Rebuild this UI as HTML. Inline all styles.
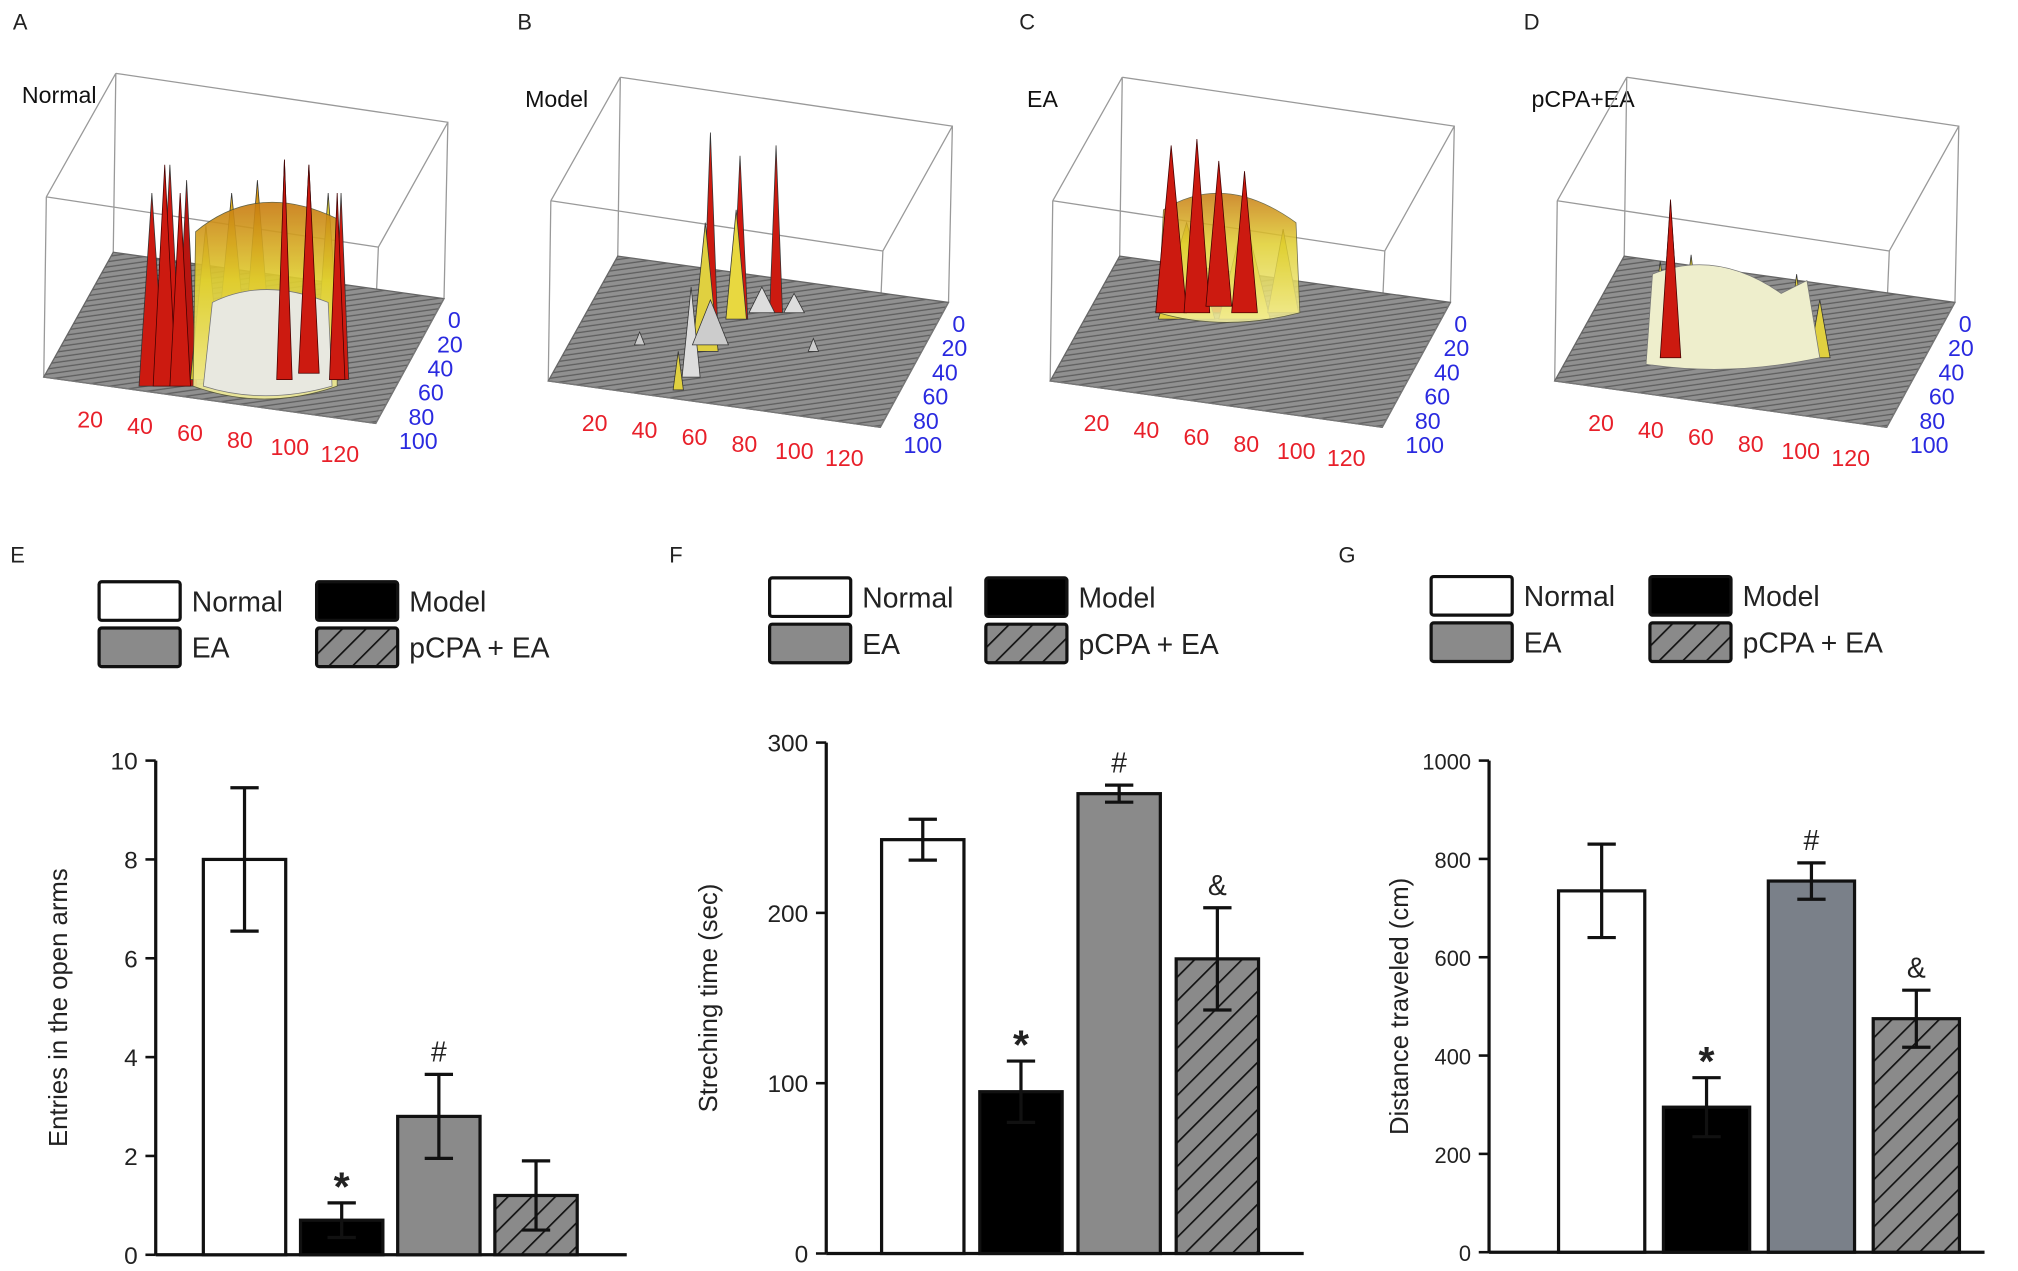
<!DOCTYPE html>
<html><head><meta charset="utf-8"><style>
html,body{margin:0;padding:0;background:#fff;}
svg{display:block;font-family:"Liberation Sans",Arial,sans-serif;}
</style></head><body>
<svg id="fig" width="2018" height="1271" viewBox="0 0 1568 987.6" preserveAspectRatio="none" xmlns="http://www.w3.org/2000/svg">
<defs>
<pattern id="hatch" patternUnits="userSpaceOnUse" width="13" height="13" patternTransform="rotate(45)">
<rect width="13" height="13" fill="#8a8a8a"/><line x1="0" y1="0" x2="0" y2="13" stroke="#111" stroke-width="2.6"/>
</pattern>
<pattern id="floor" patternUnits="userSpaceOnUse" width="6" height="4" patternTransform="rotate(-8)">
<rect width="6" height="4" fill="#909090"/><line x1="0" y1="1" x2="6" y2="1" stroke="#5e5e5e" stroke-width="1"/>
</pattern>
<linearGradient id="yel" x1="0" y1="0" x2="0" y2="1"><stop offset="0" stop-color="#c87a10"/><stop offset="0.4" stop-color="#e0d030"/><stop offset="1" stop-color="#f4f0a0"/></linearGradient>
</defs>
<g id="top3d"></g>
<g id="charts"></g>
</svg>
<script>
// ---- bar chart data ----
const categories = ["Normal", "Model", "EA", "pCPA + EA"];
const eMeans = [8.0, 0.7, 2.8, 1.2];
const eErrs = [1.45, 0.35, 0.85, 0.7];
const eTicks = [0, 2, 4, 6, 8, 10];
const eMarks = ["", "*", "#", ""];
const fMeans = [243, 95, 270, 173];
const fErrs = [12, 18, 5, 30];
const fTicks = [0, 100, 200, 300];
const fMarks = ["", "*", "#", "&"];
const gMeans = [735, 295, 755, 475];
const gErrs = [95, 60, 37, 58];
const gTicks = [0, 200, 400, 600, 800, 1000];
const gMarks = ["", "*", "#", "&"];
// ---- 3D plot tick labels ----
const xLabels3d = [20, 40, 60, 80, 100, 120];
const yLabels3d = [0, 20, 40, 60, 80, 100];

const NS = "http://www.w3.org/2000/svg";
function mk(tag, attrs, parent, text) {
  const el = document.createElementNS(NS, tag);
  for (const k in attrs) el.setAttribute(k, attrs[k]);
  if (text !== undefined) el.textContent = text;
  parent.appendChild(el);
  return el;
}
const charts = document.getElementById("charts");
const fills = ["#ffffff", "#000000", "#8a8a8a", "url(#hatch)"];

function barChart(cfg) {
  const g = mk("g", {}, charts);
  
  
  const lab = mk("text", {x: cfg.labX, y: cfg.labY, "font-size": 17, fill: "#222"}, g, cfg.letter);
  
  
  const lg = mk("g", {}, g);
  
  
  for (let i = 0; i < 4; i++) {
    const col = i % 2, row = Math.floor(i / 2);
    const bx = cfg.legX + col * cfg.legDX, by = cfg.legY + row * 36;
    const r = mk("rect", {x: bx, y: by, width: 63, height: 30, fill: fills[i], stroke: "#111", "stroke-width": 2.5, rx: 2}, lg);
    
    
    const t = mk("text", {x: bx + 72, y: by + 23, "font-size": 22, fill: "#222"}, lg, categories[i]);
    
    
  }
  const max = cfg.ticks[cfg.ticks.length - 1];
  const yS = v => cfg.y0 - (v / max) * (cfg.y0 - cfg.yTop);
  const ya = mk("line", {x1: cfg.ax, y1: cfg.yTop, x2: cfg.ax, y2: cfg.y0, stroke: "#111", "stroke-width": 2.5}, g);
  
  
  const xa = mk("line", {x1: cfg.ax, y1: cfg.y0, x2: cfg.axEnd, y2: cfg.y0, stroke: "#111", "stroke-width": 2.5}, g);
  
  
  cfg.ticks.forEach(v => {
    const tk = mk("line", {x1: cfg.ax - 8, y1: yS(v), x2: cfg.ax, y2: yS(v), stroke: "#111", "stroke-width": 2}, g);
    
    
    const tl = mk("text", {x: cfg.ax - 14, y: yS(v) + 7, "font-size": cfg.tickFs, "text-anchor": "end", fill: "#222"}, g, String(v));
    
    
  });
  const yt = mk("text", {x: cfg.titleX, y: (cfg.yTop + cfg.y0) / 2, "font-size": 20, "text-anchor": "middle", fill: "#222", transform: `rotate(-90 ${cfg.titleX} ${(cfg.yTop + cfg.y0) / 2})`}, g, cfg.title);
  
  
  cfg.means.forEach((m, i) => {
    const bx = cfg.bar0 + i * cfg.barStep;
    const b = mk("rect", {x: bx, y: yS(m), width: cfg.barW, height: cfg.y0 - yS(m), fill: i === 2 && cfg.eaColor ? cfg.eaColor : fills[i], stroke: "#111", "stroke-width": 2.5}, g);
    
    
    const cx = bx + cfg.barW / 2, e = cfg.errs[i];
    const hi = yS(m + e), lo = yS(m - e);
    const eb = mk("path", {d: `M${cx},${lo}V${hi}M${cx - 11},${hi}H${cx + 11}M${cx - 11},${lo}H${cx + 11}`, stroke: "#111", "stroke-width": 2.5, fill: "none"}, g);
    
    
    if (cfg.marks[i]) {
      const star = cfg.marks[i] === "*";
      const mt = mk("text", {x: cx, y: hi - (star ? 2 : 10), "font-size": star ? 32 : 22, "font-weight": star ? "bold" : "normal", "text-anchor": "middle", fill: "#222"}, g, cfg.marks[i]);
      
      
    }
  });
}
barChart({name: "chart-e-entries", letter: "E", labX: 8, labY: 437, legX: 77, legY: 452, legDX: 169,
  ax: 121, axEnd: 487, yTop: 591, y0: 975, ticks: eTicks, tickFs: 19, title: "Entries in the open arms", titleX: 52,
  means: eMeans, errs: eErrs, marks: eMarks, bar0: 158, barStep: 75.5, barW: 64});
barChart({name: "chart-f-stretching", letter: "F", labX: 520, labY: 437, legX: 598, legY: 449, legDX: 168,
  ax: 642, axEnd: 1013, yTop: 577, y0: 974, ticks: fTicks, tickFs: 19, title: "Streching time (sec)", titleX: 557,
  means: fMeans, errs: fErrs, marks: fMarks, bar0: 685, barStep: 76.3, barW: 64});
barChart({name: "chart-g-distance", letter: "G", labX: 1040, labY: 437, legX: 1112, legY: 448, legDX: 170,
  ax: 1157, axEnd: 1542, yTop: 591, y0: 973, ticks: gTicks, tickFs: 17, title: "Distance traveled (cm)", titleX: 1094,
  means: gMeans, errs: gErrs, marks: gMarks, bar0: 1211, barStep: 81.5, barW: 67, eaColor: "#7a8089"});

// ---- 3D surface panels ----
const top3d = document.getElementById("top3d");
const panels = [
  {letter: "A", title: "Normal", dx: 0, dy: 0},
  {letter: "B", title: "Model", dx: 392, dy: 3},
  {letter: "C", title: "EA", dx: 782, dy: 3},
  {letter: "D", title: "pCPA+EA", dx: 1174, dy: 3}
];
const spikes = [
  [[118,150,300,10,"#cc1a10"],[132,128,300,9,"#d01810"],[145,140,300,8,"#b81510"],[160,175,295,12,"#d8c830"],[180,150,295,14,"#e0b020"],[200,140,290,12,"#d89a18"],[221,124,295,6,"#cc1a10"],[240,128,290,8,"#d01810"],[255,150,290,10,"#d8c830"],[265,150,295,6,"#cc1a10"]],
  [[160,100,260,6,"#cc1a10"],[183,118,245,6,"#d01810"],[211,110,240,5,"#cc1a10"],[156,170,270,10,"#e0d040"],[180,160,245,8,"#e8d840"],[145,220,290,7,"#ddd"],[135,270,300,4,"#e0d040"],[200,220,240,10,"#ddd"],[160,230,265,14,"#ccc"],[225,225,240,8,"#ddd"],[105,255,265,4,"#ccc"],[240,260,270,4,"#ccc"]],
  [[128,120,240,12,"#cc1a10"],[148,112,240,10,"#d01810"],[165,128,240,10,"#cc1a10"],[185,140,245,10,"#c81810"],[140,170,245,22,"#e0d040"],[185,165,245,20,"#e8d840"],[215,175,240,12,"#e0d040"]],
  [[124,155,270,8,"#cc1a10"],[116,200,280,10,"#e0d040"],[140,195,280,10,"#d8c830"],[200,230,275,12,"#e8d840"],[222,210,275,8,"#e0d040"],[240,230,275,8,"#e0d040"]]
];
panels.forEach((p, pi) => {
  const g = mk("g", {transform: `translate(${p.dx},${p.dy})`}, top3d);
  
  
  mk("text", {x: 10, y: 23 - p.dy, "font-size": 17, fill: "#222"}, g, p.letter);
  const tt = mk("text", {x: pi === 0 ? 17 : 16, y: 80, "font-size": 18, fill: "#111"}, g, p.title);
  
  
  mk("path", {d: "M90,57L348,95L345,232M90,57L88,196M90,57L36,153M348,95L294,192L292,240M36,153L294,192M36,153L34,293", stroke: "#999", "stroke-width": 1, fill: "none"}, g);
  const fl = mk("polygon", {points: "88,196 345,232 292,329 34,293", fill: "url(#floor)", stroke: "#666", "stroke-width": 1}, g);
  
  
  spikes[pi].forEach(s => {
    mk("polygon", {points: `${s[0]-s[3]},${s[2]} ${s[0]},${s[1]} ${s[0]+s[3]},${s[2]}`, fill: s[4], stroke: "#333", "stroke-width": 0.6}, g);
  });
  if (pi === 0) {
    mk("path", {d: "M150,300 L152,180 Q200,140 262,170 L262,300 Q205,320 150,300Z", fill: "url(#yel)", stroke: "#553", "stroke-width": 0.6, opacity: 0.9}, g);
    mk("path", {d: "M158,300 L165,235 Q205,215 255,235 L258,300 Q205,315 158,300Z", fill: "#e8e8e0", stroke: "#777", "stroke-width": 0.6}, g);
    [[221,124,295,6],[240,128,290,8],[262,150,295,6],[128,128,300,9],[140,150,300,8]].forEach(s =>
      mk("polygon", {points: `${s[0]-s[3]},${s[2]} ${s[0]},${s[1]} ${s[0]+s[3]},${s[2]}`, fill: "#cc1a10", stroke: "#400", "stroke-width": 0.6}, g));
  }
  if (pi === 2) {
    mk("path", {d: "M118,240 L122,160 Q170,130 225,170 L228,240 Q170,255 118,240Z", fill: "url(#yel)", stroke: "#553", "stroke-width": 0.6, opacity: 0.85}, g);
    [[128,110,240,12],[148,105,240,10],[165,122,235,10],[185,130,240,10]].forEach(s =>
      mk("polygon", {points: `${s[0]-s[3]},${s[2]} ${s[0]},${s[1]} ${s[0]+s[3]},${s[2]}`, fill: "#cc1a10", stroke: "#400", "stroke-width": 0.6}, g));
  }
  if (pi === 3) {
    mk("path", {d: "M105,280 L110,210 Q160,190 210,225 L230,215 L240,275 Q170,290 105,280Z", fill: "#eeeecc", stroke: "#777", "stroke-width": 0.6}, g);
    mk("polygon", {points: "116,275 124,152 132,275", fill: "#cc1a10", stroke: "#400", "stroke-width": 0.6}, g);
  }
  mk("path", {d: "M34,293L292,329L345,232", stroke: "#777", "stroke-width": 1, fill: "none"}, g);
  xLabels3d.forEach((v, i) => {
    const t = mk("text", {x: 70 + i * 38.8, y: 332 + i * 5.4, "font-size": 18, fill: "#e8202a", "text-anchor": "middle"}, g, String(v));
    
    
  });
  yLabels3d.forEach((v, i) => {
    const t = mk("text", {x: 347 - i * 7.4 + (v === 0 ? 6 : 0), y: 255 + i * 18.8, "font-size": 18, fill: "#2a2ae0", "text-anchor": v === 0 ? "middle" : "start"}, g, String(v));
    
    
  });
});
</script>
</body></html>
